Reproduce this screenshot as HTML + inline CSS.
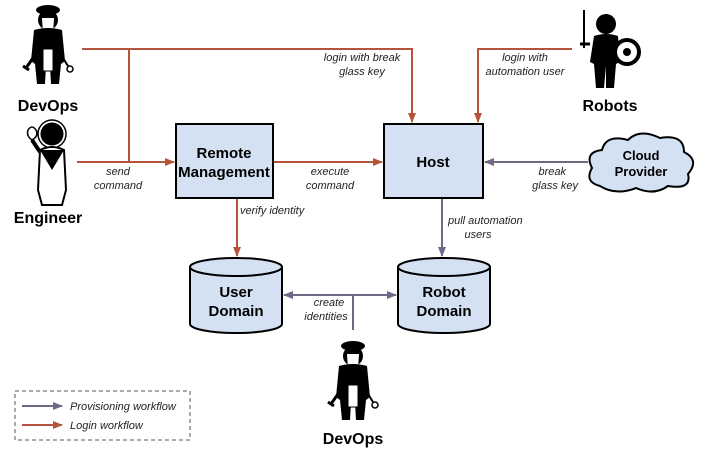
<!DOCTYPE html>
<html><head><meta charset="utf-8"><style>body{margin:0;background:#fff}svg{display:block}</style></head><body>
<svg width="709" height="455" viewBox="0 0 709 455" xmlns="http://www.w3.org/2000/svg" font-family="Liberation Sans, sans-serif">
<defs>
<marker id="r" markerWidth="10" markerHeight="8" refX="9" refY="4" orient="auto" markerUnits="userSpaceOnUse"><path d="M0,0L10,4L0,8z" fill="#b5533c"/></marker>
<marker id="p" markerWidth="10" markerHeight="8" refX="9" refY="4" orient="auto" markerUnits="userSpaceOnUse"><path d="M0,0L10,4L0,8z" fill="#6e6a86"/></marker>
<marker id="ps" markerWidth="10" markerHeight="8" refX="1" refY="4" orient="auto" markerUnits="userSpaceOnUse"><path d="M10,0L0,4L10,8z" fill="#6e6a86"/></marker>
<g id="dev">
<ellipse cx="0" cy="4" rx="12" ry="5" fill="#000"/>
<circle cx="0" cy="14" r="10" fill="#000"/>
<path d="M-6,12 L6,12 L5,28 L0,32 L-5,28z" fill="#fff"/>
<path d="M-14,24 Q0,20 14,24 L17,55 L13,58 L11,78 L3,78 L2,60 L-2,60 L-3,78 L-11,78 L-13,58 L-17,55z" fill="#000"/>
<rect x="-5" y="43" width="10" height="22" fill="#fff" stroke="#000"/>
<path d="M-15,52 L-22,62 M-25,60 L-19,64" stroke="#000" stroke-width="3"/>
<path d="M15,52 L20,60" stroke="#000" stroke-width="2"/><circle cx="22" cy="63" r="3" fill="#fff" stroke="#000" stroke-width="1.5"/>
</g>
</defs>
<g fill="none" stroke-width="2">
<path d="M82,49H412V122" stroke="#b5533c" marker-end="url(#r)"/>
<path d="M129,49V162" stroke="#b5533c"/>
<path d="M77,162H174" stroke="#b5533c" marker-end="url(#r)"/>
<path d="M273,162H382" stroke="#b5533c" marker-end="url(#r)"/>
<path d="M572,49H478V122" stroke="#b5533c" marker-end="url(#r)"/>
<path d="M588,162H485" stroke="#6e6a86" marker-end="url(#p)"/>
<path d="M237,198V256" stroke="#b5533c" marker-end="url(#r)"/>
<path d="M442,198V256" stroke="#6e6a86" marker-end="url(#p)"/>
<path d="M284,295H396" stroke="#6e6a86" marker-start="url(#ps)" marker-end="url(#p)"/>
<path d="M353,295V330" stroke="#6e6a86"/>
</g>
<rect x="176" y="124" width="97" height="74" fill="#d4e1f2" stroke="#000" stroke-width="2"/>
<rect x="384" y="124" width="99" height="74" fill="#d4e1f2" stroke="#000" stroke-width="2"/>
<g fill="#d4e1f2" stroke="#000" stroke-width="2">
<path d="M190,267V324A46,9 0 0 0 282,324V267"/><ellipse cx="236" cy="267" rx="46" ry="9"/>
<path d="M398,267V324A46,9 0 0 0 490,324V267"/><ellipse cx="444" cy="267" rx="46" ry="9"/>
<path d="M600,186 Q584,182 592,168 Q584,152 602,150 Q606,134 628,140 Q640,128 660,138 Q684,134 684,152 Q700,160 688,174 Q692,190 668,186 Q654,196 636,188 Q616,196 600,186z"/>
</g>
<g font-weight="bold" font-size="15" text-anchor="middle" fill="#000">
<text x="224" y="158">Remote</text><text x="224" y="177">Management</text>
<text x="433" y="167">Host</text>
<text x="236" y="297">User</text><text x="236" y="316">Domain</text>
<text x="444" y="297">Robot</text><text x="444" y="316">Domain</text>
<text x="641" y="160" font-size="13">Cloud</text><text x="641" y="176" font-size="13">Provider</text>
<text x="48" y="111" font-size="16">DevOps</text>
<text x="48" y="223" font-size="16">Engineer</text>
<text x="610" y="111" font-size="16">Robots</text>
<text x="353" y="444" font-size="16">DevOps</text>
</g>
<g font-style="italic" font-size="11" fill="#222" text-anchor="middle">
<text x="362" y="61">login with break</text><text x="362" y="75">glass key</text>
<text x="525" y="61">login with</text><text x="525" y="75">automation user</text>
<text x="118" y="175">send</text><text x="118" y="189">command</text>
<text x="330" y="175">execute</text><text x="330" y="189">command</text>
<text x="566" y="175" text-anchor="end">break</text><text x="578" y="189" text-anchor="end">glass key</text>
<text x="240" y="214" text-anchor="start">verify identity</text>
<text x="448" y="224" text-anchor="start">pull automation</text><text x="478" y="238">users</text>
<text x="329" y="306">create</text><text x="326" y="320">identities</text>
</g>
<use href="#dev" x="48" y="6"/>
<use href="#dev" x="353" y="342"/>
<!-- engineer -->
<g>
<circle cx="52" cy="134" r="12" fill="#000" stroke="#fff" stroke-width="1"/>
<circle cx="52" cy="134" r="14" fill="none" stroke="#000" stroke-width="1.5"/>
<path d="M40,150 Q52,144 64,150 L66,190 L62,205 L42,205 L38,190z" fill="#fff" stroke="#000" stroke-width="2"/>
<path d="M40,150 L64,150 L52,170z" fill="#000"/>
<path d="M40,152 L32,140" stroke="#000" stroke-width="4"/>
<path d="M28,130 q4,-6 8,0 q3,6 -4,10 q-6,-4 -4,-10z" fill="#fff" stroke="#000" stroke-width="1.5"/>
</g>
<!-- robot -->
<g>
<path d="M584,10 L584,48" stroke="#000" stroke-width="2"/>
<path d="M580,44 H590" stroke="#000" stroke-width="3"/>
<circle cx="606" cy="24" r="10" fill="#000"/>
<path d="M594,36 Q606,32 618,36 L620,62 L616,64 L614,88 L606,88 L606,66 L604,88 L596,88 L594,64 L590,62z" fill="#000"/>
<circle cx="627" cy="52" r="12" fill="#fff" stroke="#000" stroke-width="4"/>
<circle cx="627" cy="52" r="4" fill="#000"/>
</g>
<rect x="15" y="391" width="175" height="49" fill="none" stroke="#555" stroke-dasharray="4,3"/>
<path d="M22,406H62" stroke="#6e6a86" stroke-width="2" marker-end="url(#p)"/>
<path d="M22,425H62" stroke="#b5533c" stroke-width="2" marker-end="url(#r)"/>
<g font-style="italic" font-size="11" fill="#222">
<text x="70" y="410">Provisioning workflow</text>
<text x="70" y="429">Login workflow</text>
</g>
</svg>
</body></html>
